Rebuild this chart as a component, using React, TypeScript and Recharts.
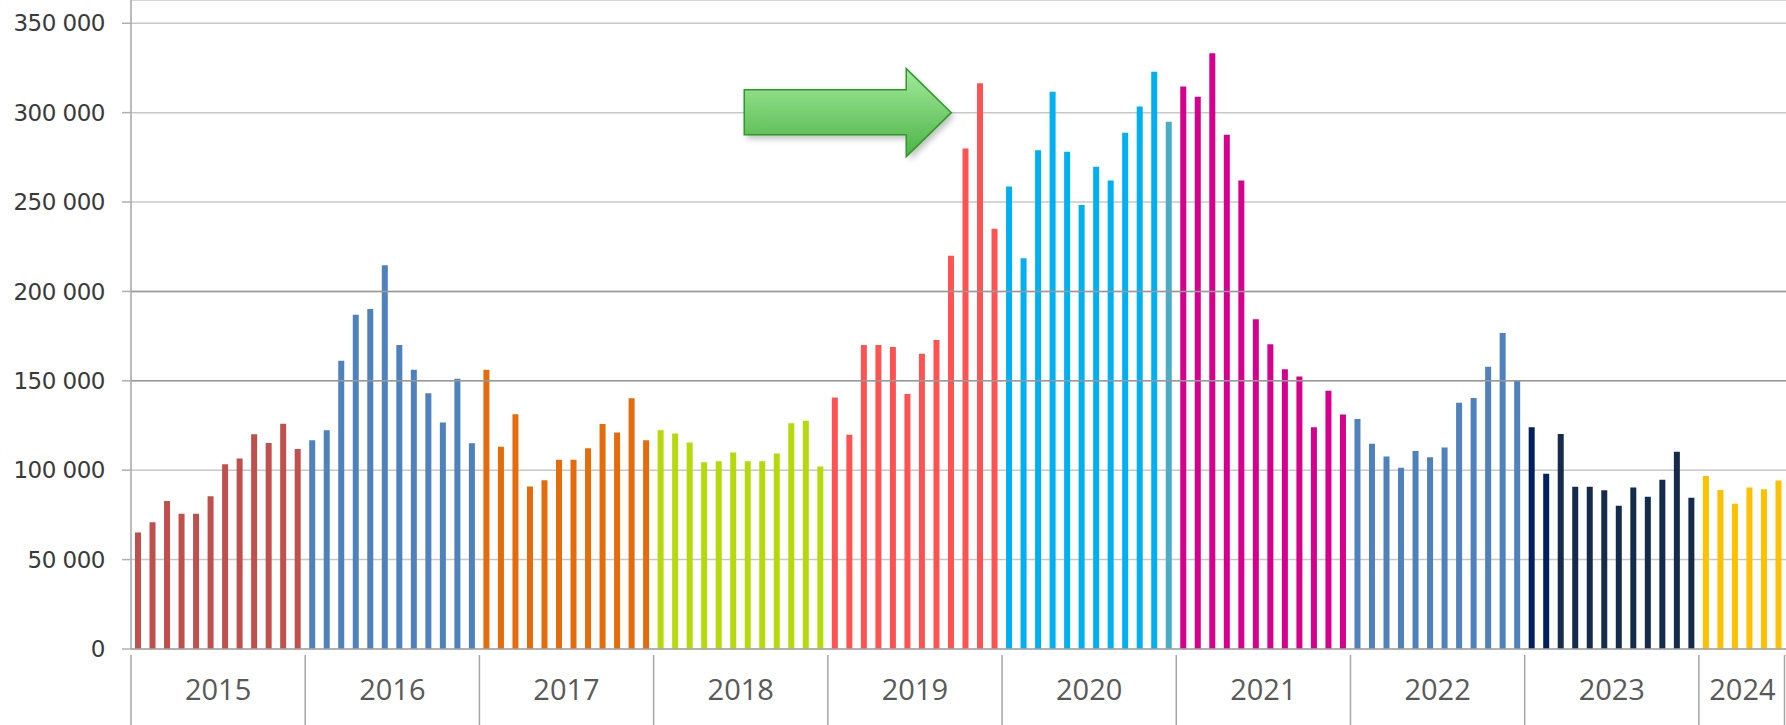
import React from "react";
import { BarChart, Bar, Cell, XAxis, YAxis, CartesianGrid, ReferenceLine, ReferenceDot } from "recharts";

// Monthly values, one array per year (2024 only runs to June)
const years = ["2015", "2016", "2017", "2018", "2019", "2020", "2021", "2022", "2023", "2024"];

const v2015 = [65200, 70900, 82800, 75600, 75600, 85400, 103300, 106600, 120100, 115200, 126000, 111800];
const v2016 = [116800, 122400, 161200, 187000, 190100, 214700, 170100, 156200, 143100, 126700, 151100, 115100];
const v2017 = [156200, 113100, 131300, 90900, 94400, 105800, 105800, 112300, 125900, 121100, 140300, 116700];
const v2018 = [122300, 120600, 115500, 104400, 105000, 109900, 105000, 105000, 109300, 126200, 127700, 102100];
const v2019 = [140600, 119900, 170000, 170000, 168900, 142600, 165100, 172900, 219900, 280000, 316400, 235100];
const v2020 = [258700, 218500, 278900, 311700, 278100, 248300, 269800, 262000, 288700, 303500, 322900, 294900];
const v2021 = [314600, 308900, 333200, 287700, 262000, 184400, 170400, 156500, 152400, 124000, 144500, 131100];
const v2022 = [128700, 114800, 107600, 101400, 110700, 107200, 112700, 137700, 140400, 157800, 176800, 150000];
const v2023 = [124000, 98000, 120300, 90800, 90800, 88800, 80100, 90300, 85200, 94600, 110300, 84600];
const v2024 = [96800, 89000, 81300, 90300, 89300, 94200];

const yearValues = [v2015, v2016, v2017, v2018, v2019, v2020, v2021, v2022, v2023, v2024];

const yearColors = ["#c0504d", "#4f81bd", "#e46c0a", "#b6d90b", "#ff5353", "#00b0f0", "#d6008f", "#4f81bd", "#142b4b", "#ffc000"];

// a few months drawn in a different shade
const colorOverrides: Record<string, string> = {
    "2020-12": "#4bacc6",
    "2023-1": "#002060",
    "2023-2": "#002060",
};

const yTicks = [0, 50000, 100000, 150000, 200000, 250000, 300000, 350000];

// arrow points at the 300 000 level, tip over Sep 2019
const arrowAt = { key: "2019-9", value: 300000 };

interface Row {
    key: string;
    year: number; // index into years
    month: number; // 0-based
    value: number;
    fill: string;
}

const rows: Row[] = years.flatMap((y, yi) =>
    yearValues[yi].map((value, mi) => {
        const key = `${y}-${mi + 1}`;
        return { key, year: yi, month: mi, value, fill: colorOverrides[key] ?? yearColors[yi] };
    })
);

const WIDTH = 1786;
const HEIGHT = 725;
const Y_AXIS_W = 131;
const X_AXIS_H = 76;
const BAND = (WIDTH - Y_AXIS_W) / rows.length;

const fmt = (v: number) => v.toLocaleString("en-US").replace(/,/g, " ");

// year separators + year labels under the axis
const YearTick = (props: any) => {
    const { x, y, payload } = props;
    const row = rows[payload.index];
    if (!row) return null;
    const last = payload.index === rows.length - 1;
    const left = x - BAND / 2;
    const n = yearValues[row.year].length;
    return (
        <g>
            {row.month === 0 && (
                <>
                    <line x1={left} x2={left} y1={y + 6} y2={HEIGHT} stroke="#a6a6a6" strokeWidth={1.5} />
                    <text
                        x={left + (n * BAND) / 2}
                        y={y + 43}
                        textAnchor="middle"
                        dominantBaseline="middle"
                        fontFamily="'Open Sans', sans-serif"
                        fontSize={29}
                        fill="#595959"
                    >
                        {years[row.year]}
                    </text>
                </>
            )}
            {last && <line x1={x + BAND / 2 - 1.5} x2={x + BAND / 2 - 1.5} y1={y + 6} y2={HEIGHT} stroke="#a6a6a6" strokeWidth={1.5} />}
        </g>
    );
};

// block arrow annotation, drawn relative to its tip
const ArrowShape = (props: any) => {
    const { cx, cy } = props;
    if (cx == null || cy == null) return null;
    const pts = [
        [-207, -23],
        [-45, -23],
        [-45, -44],
        [0, 0],
        [-45, 44],
        [-45, 22],
        [-207, 22],
    ]
        .map(([dx, dy]) => `${cx + dx},${cy + dy}`)
        .join(" ");
    return (
        <g>
            <defs>
                <linearGradient id="arrowFill" x1="0" y1="0" x2="0" y2="1">
                    <stop offset="0%" stopColor="#a3ea9c" />
                    <stop offset="100%" stopColor="#4cb446" />
                </linearGradient>
                <filter id="arrowShadow" x="-20%" y="-40%" width="140%" height="180%">
                    <feGaussianBlur stdDeviation="3" />
                </filter>
            </defs>
            <polygon points={pts} transform="translate(3,4)" fill="#000" opacity={0.25} filter="url(#arrowShadow)" />
            <polygon points={pts} fill="url(#arrowFill)" stroke="#2f9a2a" strokeWidth={1.5} strokeLinejoin="miter" />
        </g>
    );
};

export default function App() {
    return (
        <div style={{ position: "absolute", left: 0, top: 0, width: WIDTH, height: HEIGHT, background: "#fff", overflow: "hidden" }}>
            <BarChart width={WIDTH} height={HEIGHT} data={rows} margin={{ top: 0, right: 0, bottom: 0, left: 0 }} barSize={6}>
                <CartesianGrid horizontal vertical={false} stroke="#c8c8c8" strokeWidth={1.5} />
                <ReferenceLine y={150000} stroke="#999999" strokeWidth={1.5} />
                <ReferenceLine y={200000} stroke="#999999" strokeWidth={1.5} />
                <XAxis
                    dataKey="key"
                    height={X_AXIS_H}
                    interval={0}
                    tickLine={false}
                    tickSize={0}
                    tickMargin={0}
                    axisLine={{ stroke: "#a6a6a6", strokeWidth: 1.5 }}
                    tick={<YearTick />}
                />
                <YAxis
                    width={Y_AXIS_W}
                    domain={[0, 363000]}
                    ticks={yTicks}
                    allowDataOverflow
                    tickFormatter={fmt}
                    tickSize={9}
                    tickMargin={17}
                    axisLine={{ stroke: "#a6a6a6", strokeWidth: 1.5 }}
                    tickLine={{ stroke: "#b0b0b0", strokeWidth: 1.5 }}
                    tick={{ fill: "#3a3a3a", fontSize: 23, fontFamily: "'DejaVu Sans', sans-serif", letterSpacing: -0.5 }}
                />
                <Bar dataKey="value" isAnimationActive={false}>
                    {rows.map((r) => (
                        <Cell key={r.key} fill={r.fill} />
                    ))}
                </Bar>
                <ReferenceDot x={arrowAt.key} y={arrowAt.value} shape={<ArrowShape />} />
            </BarChart>
        </div>
    );
}
